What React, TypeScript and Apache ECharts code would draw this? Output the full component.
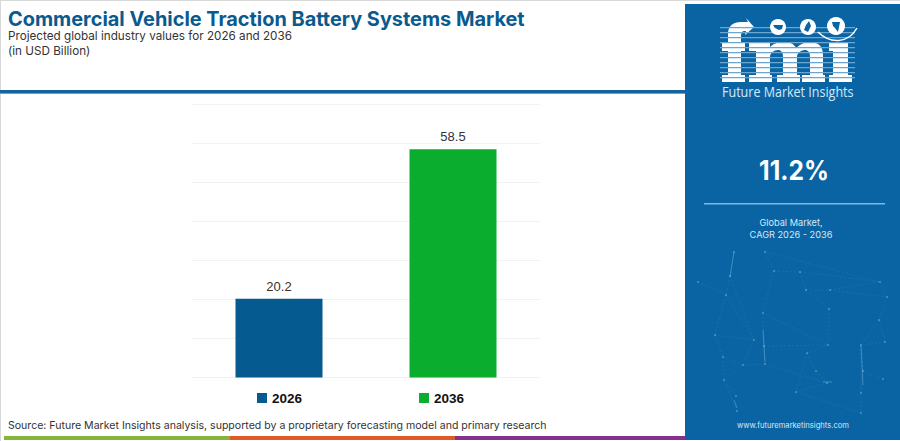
import React, { useEffect, useRef } from "react";
import * as echarts from "echarts";

const title = "Commercial Vehicle Traction Battery Systems Market";
const subtitle = "Projected global industry values for 2026 and 2036";
const unit = "(in USD Billion)";
const source = "Source: Future Market Insights analysis, supported by a proprietary forecasting model and primary research";
const categories = ["2026", "2036"];
const values2026 = [20.2, null];
const values2036 = [null, 58.5];
const cagr = "11.2%";
const cagrLabel = ["Global Market,", "CAGR 2026 - 2036"];
const brand = "Future Market Insights";
const website = "www.futuremarketinsights.com";

const BLUE = "#055a8f";
const GREEN = "#0aad2e";
const PANEL = "#0a64a4";
const FONT = "Inter, 'Noto Sans', sans-serif";
const LABEL_FONT = "'Liberation Sans', Arial, sans-serif";

const fPath = "M728 43V34C728 26 733 22 741 22H748L746 18L754 27L745 35L746 31H745C742 31 741 33 741 36V43H745V51H741V75H745V82H722V75H728V51H722V43Z";
const mPath = "M749 43H770V47C774 43 779 42 784 42C790 42 794 44 796 48C800 44 805 42 810 42C819 42 823 47 823 55V75H825V82H802V75H810V57C810 52 808 50 805 50C801 50 797 53 797 57V75H800V82H777V75H783V57C783 52 781 50 778 50C774 50 770 53 770 57V75H772V82H749V75H756V51H749Z";
const iPath = "M829 43H848V75H852V82H829V75H833V51H829Z";
echarts.graphic.registerShape("fmiF", echarts.graphic.extendPath(fPath as any, {}) as any);
echarts.graphic.registerShape("fmiM", echarts.graphic.extendPath(mPath as any, {}) as any);
echarts.graphic.registerShape("fmiI", echarts.graphic.extendPath(iPath as any, {}) as any);

const stripeYs = [27, 32, 37, 42, 47, 52, 57, 62, 67, 72, 77];

const nodes: [number, number][] = [
  [734, 252], [730, 276], [698, 282], [726, 295], [715, 335], [754, 340], [723, 357], [724, 380], [736, 396], [737, 411], [743, 365],
  [765, 252], [774, 271], [800, 272], [763, 313], [764, 346], [765, 364], [806, 290], [830, 290], [829, 309], [828, 345],
  [807, 353], [816, 371], [827, 383], [796, 392], [880, 282], [887, 297], [879, 320], [885, 342], [861, 345], [863, 371], [883, 379], [861, 413], [861, 393],
];
const edges: [number, number][] = [
  [0, 1], [1, 3], [2, 3], [3, 5], [4, 5], [4, 6], [6, 7], [7, 8], [7, 9], [5, 10], [6, 10], [10, 7], [1, 5], [3, 4],
  [11, 12], [12, 13], [12, 14], [13, 17], [14, 15], [15, 16], [16, 10], [15, 20], [14, 20], [17, 18], [18, 25], [13, 25], [11, 25],
  [17, 19], [19, 20], [20, 21], [21, 22], [22, 23], [16, 23], [23, 24], [21, 24], [25, 26], [26, 27], [27, 28], [28, 29], [29, 30], [30, 31], [30, 33], [33, 32], [29, 33], [18, 26], [27, 29], [24, 32],
];
const brightEdges: [number, number, number, number][] = [
  [734, 252, 730, 277], [763, 330, 765, 362], [823, 382, 832, 382], [861, 345, 863, 385], [734, 400, 737, 408],
];

export default function App() {
  const ref = useRef<HTMLDivElement>(null);
  useEffect(() => {
    const chart = echarts.init(ref.current!, undefined, { renderer: "svg" });
    const networkEls: any[] = [
      ...edges.map(([a, b]) => ({
        type: "line", silent: true, z: 11,
        shape: { x1: nodes[a][0], y1: nodes[a][1], x2: nodes[b][0], y2: nodes[b][1] },
        style: { stroke: "#6fb1d8", lineWidth: 0.6, opacity: 0.22, lineDash: [2, 2] },
      })),
      ...brightEdges.map(([x1, y1, x2, y2]) => ({
        type: "line", silent: true, z: 11,
        shape: { x1, y1, x2, y2 },
        style: { stroke: "#8cc3e2", lineWidth: 1, opacity: 0.4 },
      })),
      ...nodes.map(([x, y]) => ({
        type: "circle", silent: true, z: 11,
        shape: { cx: x, cy: y, r: 1.1 },
        style: { fill: "#8cc3e2", opacity: 0.4 },
      })),
    ];
    const logoFill = { fill: "#ffffff" };
    const labelStyle = { show: true, position: "top", distance: 6, fontFamily: LABEL_FONT, fontSize: 13, color: "#333333" };
    chart.setOption({
      animation: false,
      backgroundColor: "#ffffff",
      grid: { left: 192, right: 360, top: 104.5, bottom: 63.5 },
      xAxis: {
        type: "category",
        data: categories,
        axisLine: { show: false },
        axisTick: { show: false },
        axisLabel: { show: false },
      },
      yAxis: {
        type: "value",
        min: 0,
        max: 70,
        interval: 10,
        axisLine: { show: false },
        axisTick: { show: false },
        axisLabel: { show: false },
        splitLine: { lineStyle: { color: "#f2f2f2", width: 1 } },
      },
      legend: {
        data: categories,
        left: 252,
        top: 386,
        itemWidth: 10,
        itemHeight: 10,
        itemGap: 117,
        icon: "rect",
        textStyle: { fontFamily: LABEL_FONT, fontWeight: "bold", fontSize: 13.5, color: "#111111" },
      },
      series: [
        { name: categories[0], type: "bar", data: values2026, barWidth: 87, barGap: "-100%", itemStyle: { color: BLUE }, label: labelStyle },
        { name: categories[1], type: "bar", data: values2036, barWidth: 87, barGap: "-100%", itemStyle: { color: GREEN }, label: labelStyle },
      ],
      graphic: [
        { type: "rect", silent: true, z: 9, shape: { x: 0, y: 0, width: 900, height: 1 }, style: { fill: "#d8d8d8" } },
        { type: "rect", silent: true, z: 9, shape: { x: 0, y: 0, width: 1, height: 441 }, style: { fill: "#d8d8d8" } },
        { type: "rect", silent: true, z: 9, shape: { x: 0, y: 90, width: 685, height: 3 }, style: { fill: "#15639f" } },
        { type: "rect", silent: true, z: 9, shape: { x: 0, y: 93, width: 685, height: 1 }, style: { fill: "#5aa5d6" } },
        { type: "rect", silent: true, z: 9, shape: { x: 4, y: 436, width: 226, height: 4 }, style: { fill: "#84b53f" } },
        { type: "rect", silent: true, z: 9, shape: { x: 230, y: 436, width: 225, height: 4 }, style: { fill: "#de5a27" } },
        { type: "rect", silent: true, z: 9, shape: { x: 455, y: 436, width: 231, height: 4 }, style: { fill: "#84308c" } },
        { type: "text", silent: true, z: 10, x: 8, y: 8.5, style: { text: title, font: `700 19.9px ${FONT}`, fill: "#0b5a8e" } },
        { type: "text", silent: true, z: 10, x: 8, y: 30, style: { text: subtitle, font: `400 11.7px ${FONT}`, fill: "#333333" } },
        { type: "text", silent: true, z: 10, x: 8, y: 45, style: { text: unit, font: `400 11.7px ${FONT}`, fill: "#333333" } },
        { type: "text", silent: true, z: 10, x: 8, y: 419.5, style: { text: source, font: `400 10.57px ${FONT}`, fill: "#333333" } },

        { type: "rect", silent: true, z: 10, shape: { x: 685, y: 4, width: 215, height: 436 }, style: { fill: PANEL } },
        ...networkEls,
        { type: "fmiF", silent: true, z: 12, style: logoFill },
        { type: "fmiM", silent: true, z: 12, style: logoFill },
        { type: "fmiI", silent: true, z: 12, style: logoFill },
        ...stripeYs.map((y) => ({
          type: "rect", silent: true, z: 13,
          shape: { x: 720, y, width: 135, height: 1.3 },
          style: { fill: "#6aa6d0" },
        })),
        { type: "circle", silent: true, z: 14, shape: { cx: 778, cy: 27, r: 8 }, style: { fill: "#ffffff" } },
        { type: "circle", silent: true, z: 14, shape: { cx: 808, cy: 27, r: 8 }, style: { fill: "#ffffff" } },
        { type: "circle", silent: true, z: 14, shape: { cx: 836, cy: 26, r: 9 }, style: { fill: "#ffffff" } },
        { type: "polygon", silent: true, z: 15, shape: { points: [[773, 25], [783, 25], [782, 29], [779, 30], [775, 28]] }, style: { fill: PANEL } },
        { type: "polygon", silent: true, z: 15, shape: { points: [[809, 21], [811, 26], [808, 32], [804, 30], [806, 25]] }, style: { fill: PANEL } },
        { type: "polygon", silent: true, z: 15, shape: { points: [[832, 22], [840, 22], [839, 27], [838, 32], [835, 28], [833, 26]] }, style: { fill: PANEL } },
        { type: "bezierCurve", silent: true, z: 15, shape: { x1: 818, y1: 32, cpx1: 830, cpy1: 44, cpx2: 848, cpy2: 44, x2: 857, y2: 28 }, style: { stroke: "#ffffff", lineWidth: 1.5, fill: "none" } },
        { type: "text", silent: true, z: 15, x: 722, y: 85, scaleX: 0.87, style: { text: brand, font: `400 14.4px 'Open Sans', ${FONT}`, fill: "#d6e8f5" } },

        { type: "text", silent: true, z: 15, x: 794, y: 170, scaleX: 0.91, style: { text: cagr, font: `700 27px ${FONT}`, fill: "#ffffff", align: "center", verticalAlign: "middle" } },
        { type: "rect", silent: true, z: 15, shape: { x: 704, y: 203, width: 181, height: 1.6 }, style: { fill: "#7fb8de" } },
        { type: "text", silent: true, z: 15, x: 791, y: 222, style: { text: cagrLabel[0], font: `400 9.2px ${FONT}`, fill: "#d6e8f5", align: "center", verticalAlign: "middle" } },
        { type: "text", silent: true, z: 15, x: 791, y: 234, style: { text: cagrLabel[1], font: `400 9.2px ${FONT}`, fill: "#d6e8f5", align: "center", verticalAlign: "middle" } },
        { type: "text", silent: true, z: 15, x: 793, y: 425, style: { text: website, font: `400 7.6px ${FONT}`, fill: "#d6e8f5", align: "center", verticalAlign: "middle" } },
      ],
    });
    return () => chart.dispose();
  }, []);
  return <div ref={ref} style={{ position: "fixed", left: 0, top: 0, width: 900, height: 441 }} />;
}
